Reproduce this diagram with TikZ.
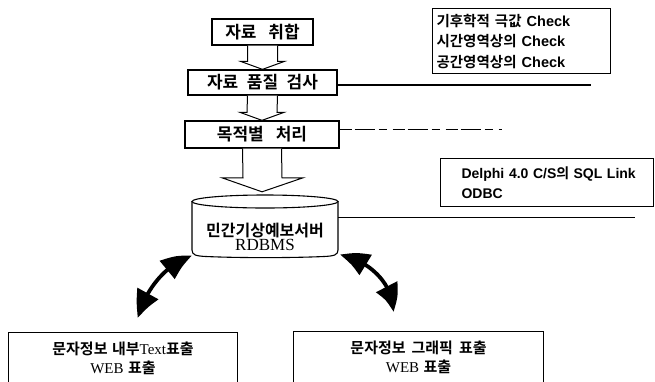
\documentclass[tikz,border=0pt]{standalone}
\usepackage{fontspec}
\setmainfont{Liberation Serif}
\setsansfont{Liberation Sans}
\newfontfamily\kr{Noto Sans CJK KR}[BoldFont={Noto Sans CJK KR Bold}]
\usetikzlibrary{arrows.meta,bending,calc}
\begin{document}
\begin{tikzpicture}[x=1pt,y=-1pt,
  box/.style={draw, line width=1.3pt, inner sep=0pt},
  hollow/.style={draw, fill=white, line width=1pt, line join=miter},
  plainline/.style={line width=1.3pt},
  thinline/.style={line width=0.8pt},
  faintline/.style={line width=0.8pt, dash pattern=on 12pt off 3pt on 20pt off 4pt on 8pt off 6pt},
  bigarrow/.style={line width=3.8pt, {Triangle[length=27pt,width=23pt,bend]}-{Triangle[length=27pt,width=23pt,bend]}},
  toptext/.style={font=\kr\bfseries\fontsize{17}{19}\selectfont},
  infotext/.style={font=\bfseries\fontsize{14.5}{20.5}\selectfont, align=left},
  outtext/.style={font=\fontsize{15}{19.5}\selectfont, align=center},
]
\clip (0,0) rectangle (655,381);
\fill[white] (0,0) rectangle (655,381);

% top process boxes
\node[box, minimum width=101pt, minimum height=26pt, toptext] (b1) at (262.5,32) {자료\hspace{0.7em}취합};
\node[box, minimum width=149pt, minimum height=25pt, toptext] (b2) at (262.5,82.5) {자료\hspace{0.5em}품질\hspace{0.5em}검사};
\node[box, minimum width=154pt, minimum height=27pt, toptext] (b3) at (262,134.5) {목적별\hspace{0.7em}처리};

% hollow arrows
\draw[hollow] ($(b1.south)+(-15,0)$) -- ($(b2.north)+(-15,-8)$) -- ($(b2.north)+(-22,-8)$)
  -- (b2.north) -- ($(b2.north)+(22,-8)$) -- ($(b2.north)+(15,-8)$) -- ($(b1.south)+(15,0)$);
\draw[hollow] ($(b2.south)+(-15,0)$) -- ($(b3.north)+(-15,-8)$) -- ($(b3.north)+(-22,-8)$)
  -- (b3.north) -- ($(b3.north)+(22,-8)$) -- ($(b3.north)+(15,-8)$) -- ($(b2.south)+(15,0)$);

% database cylinder
\node[minimum width=146pt, minimum height=62pt, inner sep=0pt] (db) at (265,226) {};
\draw[line width=1.1pt, fill=white] (192,201.5) -- (192,250) .. controls (192,255) and (196,256) .. (206,256.5)
  .. controls (240,258) and (290,258) .. (324,256.5) .. controls (334,256) and (338,255) .. (338,250) -- (338,201.5);
\draw[line width=1.1pt, fill=white] (265,201.5) ellipse [x radius=73, y radius=6.5];
\node[align=center, inner sep=0pt] (dbt) at (265,237)
  {{\kr\bfseries\fontsize{16}{20}\selectfont 민간기상예보서버}\\[0pt]{\fontsize{17}{18}\selectfont RDBMS}};

% big hollow arrow into the database
\draw[hollow] ($(b3.south)+(-19.5,0)$) -- ($(db.north)+(-22,-17)$) -- ($(db.north)+(-43,-17)$)
  -- ($(db.north)+(-3,-3)$) -- ($(db.north)+(38,-17)$) -- ($(db.north)+(17,-17)$) -- ($(b3.south)+(19.5,0)$);

% info boxes
\node[draw, line width=1.1pt, anchor=north west, minimum width=175pt, minimum height=65pt,
      text width=170pt, inner xsep=4pt, inner ysep=0pt, infotext] (chk) at (432,8)
  {{\kr 기후학적\hspace{0.35em}극값}\hspace{0.35em}{\sffamily Check}\\
   {\kr 시간영역상의}\hspace{0.35em}{\sffamily Check}\\
   {\kr 공간영역상의}\hspace{0.35em}{\sffamily Check}};
\node[draw, line width=1.1pt, anchor=north west, minimum width=213pt, minimum height=48pt,
      text width=205pt, inner xsep=0pt, inner ysep=0pt, align=left,
      font=\bfseries\fontsize{14}{20}\selectfont] (dlp) at (440,158)
  {\hspace*{17pt}{\sffamily Delphi 4.0 C/S}{\kr 의}\hspace{0.3em}{\sffamily SQL Link}\\
   \hspace*{17pt}{\sffamily ODBC}};

% side lines
\coordinate (l1) at (591,85);
\coordinate (l2) at (502,129);
\coordinate (l3) at (635,217);
\draw[plainline] (b2.east |- l1) -- (l1);
\draw[faintline] (b3.east |- l2) -- (l2);
\draw[thinline] (db.east |- l3) -- (l3);

% output boxes
\node[draw, line width=1.1pt, anchor=north west, minimum width=229pt, minimum height=52pt,
      inner sep=0pt, outtext] (o1) at (8,332)
  {{\kr\bfseries 문자정보\hspace{0.3em}내부}Text{\kr\bfseries 표출}\\WEB\hspace{0.3em}{\kr\bfseries 표출}};
\node[draw, line width=1.1pt, anchor=north west, minimum width=250pt, minimum height=52pt,
      inner sep=0pt, outtext] (o2) at (293,331)
  {{\kr\bfseries 문자정보\hspace{0.4em}그래픽\hspace{0.4em}표출}\\WEB\hspace{0.3em}{\kr\bfseries 표출}};

% curved double arrows
\coordinate (a1s) at (192,256);
\coordinate (a1e) at (138,318);
\coordinate (a2s) at (340,255);
\coordinate (a2e) at (393,312);
\draw[bigarrow] (a1s) .. controls (170,262) and (146,286) .. (a1e);
\draw[bigarrow] (a2s) .. controls (366,259) and (394,282) .. (a2e);
\end{tikzpicture}
\end{document}
